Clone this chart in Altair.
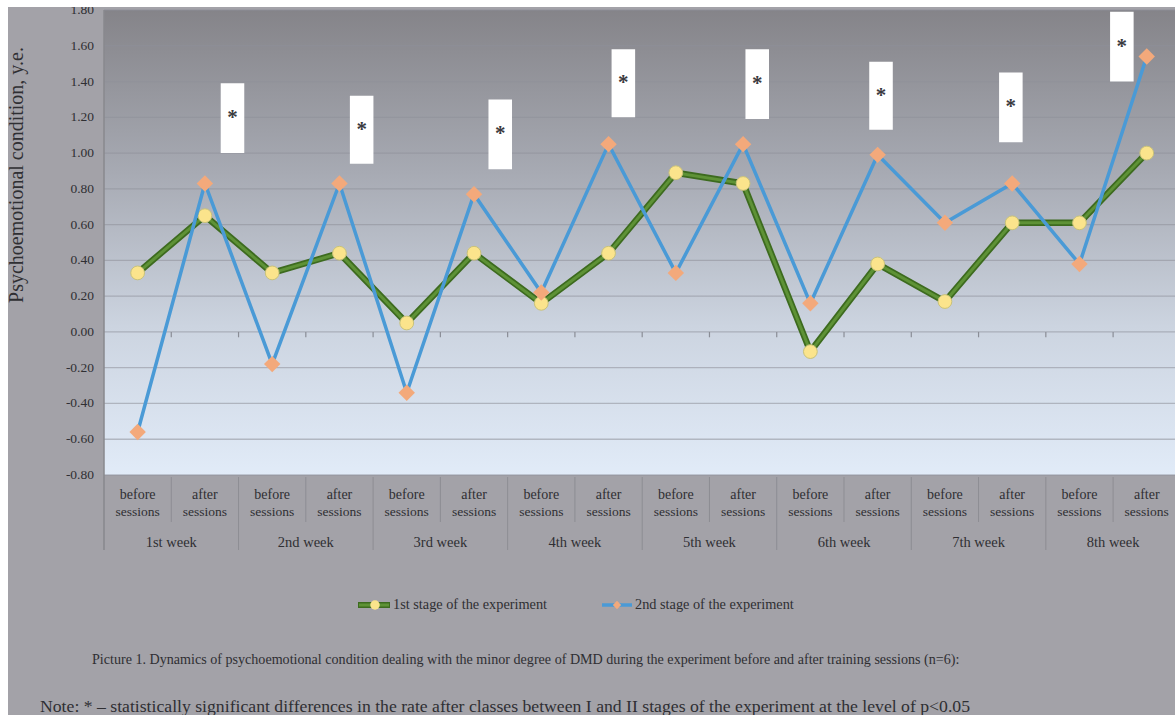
import altair as alt
import pandas as pd

# ---------------- data ----------------
weeks = ["1st week", "2nd week", "3rd week", "4th week",
         "5th week", "6th week", "7th week", "8th week"]
phases = ["before", "after"]
stage1 = [0.33, 0.65, 0.33, 0.44, 0.05, 0.44, 0.16, 0.44,
          0.89, 0.83, -0.11, 0.38, 0.17, 0.61, 0.61, 1.00]
stage2 = [-0.56, 0.83, -0.18, 0.83, -0.34, 0.77, 0.22, 1.05,
          0.33, 1.05, 0.16, 0.99, 0.61, 0.83, 0.38, 1.54]
series_names = ["1st stage of the experiment", "2nd stage of the experiment"]
y_ticks = [-0.8, -0.6, -0.4, -0.2, 0.0, 0.2, 0.4, 0.6, 0.8, 1.0, 1.2, 1.4, 1.6, 1.8]

# significance marks (box centre on the category axis, top and bottom in y units)
star_x = [1.91, 3.83, 5.89, 7.72, 9.71, 11.55, 13.48, 15.13]
star_top = [1.39, 1.32, 1.30, 1.58, 1.58, 1.51, 1.45, 1.79]
star_bottom = [1.00, 0.94, 0.91, 1.20, 1.19, 1.13, 1.06, 1.40]

caption = ("Picture 1. Dynamics of psychoemotional condition dealing with the minor degree "
           "of DMD during the experiment before and after training sessions (n=6):")
note = ("Note: * \u2013 statistically significant differences in the rate after classes "
        "between I and II stages of the experiment at the level of p<0.05")
y_title = "Psychoemotional condition, y.e."

# ---------------- tables ----------------
n = len(stage1)
pts = pd.DataFrame({
    "pos": [i + 0.5 for i in range(n)],
    "s1": stage1,
    "s2": stage2,
})
cats = pd.DataFrame({
    "pos": [i + 0.5 for i in range(n)],
    "top": [phases[i % 2] for i in range(n)],
})
wk = pd.DataFrame({"pos": [2 * i + 1 for i in range(len(weeks))], "week": weeks})
stars = pd.DataFrame({"c": star_x, "t": star_top, "b": star_bottom})
stars["l"] = stars["c"] - 0.175
stars["r"] = stars["c"] + 0.175
stars["m"] = (stars["t"] + stars["b"]) / 2
grid = pd.DataFrame({"v": y_ticks,
                     "lab": [("-" if v < 0 else "") + "%.2f" % abs(v) for v in y_ticks]})
minor_sep = pd.DataFrame({"k": [k for k in range(1, n) if k % 2 == 1]})
major_sep = pd.DataFrame({"k": [k for k in range(0, n + 1, 2)]})
zero_ticks = pd.DataFrame({"k": list(range(1, n)), "y0": 0.0, "y1": -0.03})

W, H = 1071, 465
SERIF = "Liberation Serif"
TXT = "#2f2f33"

xs = alt.Scale(domain=[0, 15.92], nice=False, zero=False)
ys = alt.Scale(domain=[-0.8, 1.8], nice=False, zero=False)


def X(f):
    return alt.X(f, scale=xs, axis=None)


def Y(f):
    return alt.Y(f, scale=ys, axis=None)


one = pd.DataFrame({"a": [0]})

# plot background gradient
bg = alt.Chart(one).mark_rect(
    color=alt.Gradient(
        gradient="linear", x1=0, x2=0, y1=0, y2=1,
        stops=[alt.GradientStop(color="#858489", offset=0),
               alt.GradientStop(color="#a7aab3", offset=0.35),
               alt.GradientStop(color="#ccd4e0", offset=0.68),
               alt.GradientStop(color="#e1ebf8", offset=1)])
).encode(x=alt.value(0), x2=alt.value(W), y=alt.value(0), y2=alt.value(H))

# white frame strips at top and left
strip_top = alt.Chart(one).mark_rect(color="white").encode(
    x=alt.value(-104), x2=alt.value(W), y=alt.value(-10), y2=alt.value(-3))
strip_left = alt.Chart(one).mark_rect(color="white").encode(
    x=alt.value(-104), x2=alt.value(-96), y=alt.value(-10), y2=alt.value(H + 240))

gridlines = alt.Chart(grid).mark_rule(color="#8e9099", strokeWidth=1.3, opacity=0.55).encode(
    y=alt.Y("v:Q", scale=ys,
            axis=alt.Axis(values=y_ticks, title=None, grid=False, domain=False,
                          labels=False, tickSize=5, tickColor="#8a8a90")),
    x=alt.value(0), x2=alt.value(W))

ylabels = alt.Chart(grid).mark_text(font=SERIF, fontSize=13.5, color=TXT,
                                    align="right", baseline="middle").encode(
    y=Y("v:Q"), x=alt.value(-10), text="lab:N")

zt = alt.Chart(zero_ticks).mark_rule(color="#8a8d96", strokeWidth=1.2).encode(
    x=X("k:Q"), y=Y("y0:Q"), y2="y1:Q")

left_axis = alt.Chart(one).mark_rule(color="#88888e", strokeWidth=1.5).encode(
    x=alt.value(0), y=alt.value(0), y2=alt.value(540))

sep_minor = alt.Chart(minor_sep).mark_rule(color="#8d8d93", strokeWidth=1).encode(
    x=X("k:Q"), y=alt.value(H + 2), y2=alt.value(H + 47))
sep_major = alt.Chart(major_sep).mark_rule(color="#8d8d93", strokeWidth=1).encode(
    x=X("k:Q"), y=alt.value(H + 2), y2=alt.value(H + 75))

lab1 = alt.Chart(cats).mark_text(font=SERIF, fontSize=14, color=TXT).encode(
    x=X("pos:Q"), y=alt.value(H + 20), text="top:N")
lab2 = alt.Chart(cats).mark_text(font=SERIF, fontSize=13.5, color=TXT, text="sessions").encode(
    x=X("pos:Q"), y=alt.value(H + 37))
lab3 = alt.Chart(wk).mark_text(font=SERIF, fontSize=14.5, color=TXT).encode(
    x=X("pos:Q"), y=alt.value(H + 68), text="week:N")

boxes = alt.Chart(stars).mark_rect(color="white").encode(
    x=X("l:Q"), x2="r:Q", y=Y("t:Q"), y2="b:Q")
star_txt = alt.Chart(stars).mark_text(text="*", font=SERIF, fontSize=21, fontWeight="bold",
                                      color="#3a3a3e", baseline="middle", dy=0).encode(
    x=X("c:Q"), y=Y("m:Q"))

g_outer = alt.Chart(pts).mark_line(color="#3d6b1f", strokeWidth=6.5).encode(
    x=X("pos:Q"), y=Y("s1:Q"))
g_inner = alt.Chart(pts).mark_line(color="#5e9236", strokeWidth=3).encode(
    x=X("pos:Q"), y=Y("s1:Q"))
g_pts = alt.Chart(pts).mark_point(shape="circle", filled=True, size=190, color="#fbe48c",
                                  stroke="#c9c27a", strokeWidth=1, opacity=1).encode(
    x=X("pos:Q"), y=Y("s1:Q"))
b_line = alt.Chart(pts).mark_line(color="#4a9ad6", strokeWidth=3.5).encode(
    x=X("pos:Q"), y=Y("s2:Q"))
b_pts = alt.Chart(pts).mark_point(shape="diamond", filled=True, size=270, color="#f3a97b",
                                  opacity=1).encode(
    x=X("pos:Q"), y=Y("s2:Q"))

# legend
leg_g1 = alt.Chart(one).mark_rule(color="#3d6b1f", strokeWidth=6).encode(
    x=alt.value(254), x2=alt.value(286), y=alt.value(595))
leg_g2 = alt.Chart(one).mark_rule(color="#5e9236", strokeWidth=3).encode(
    x=alt.value(255), x2=alt.value(285), y=alt.value(595))
leg_gp = alt.Chart(one).mark_point(shape="circle", filled=True, size=90, color="#fbe48c",
                                   opacity=1).encode(x=alt.value(271), y=alt.value(595))
leg_b = alt.Chart(one).mark_rule(color="#4a9ad6", strokeWidth=3.5).encode(
    x=alt.value(498), x2=alt.value(528), y=alt.value(595))
leg_bp = alt.Chart(one).mark_point(shape="diamond", filled=True, size=70, color="#f3a97b",
                                   opacity=1).encode(x=alt.value(513), y=alt.value(595))
leg_t1 = alt.Chart(one).mark_text(text=series_names[0], font=SERIF, fontSize=14.3, color=TXT,
                                  align="left", baseline="middle").encode(
    x=alt.value(289), y=alt.value(595))
leg_t2 = alt.Chart(one).mark_text(text=series_names[1], font=SERIF, fontSize=14.3, color=TXT,
                                  align="left", baseline="middle").encode(
    x=alt.value(531), y=alt.value(595))

cap = alt.Chart(one).mark_text(text=caption, font=SERIF, fontSize=14.1, color=TXT,
                               align="left", baseline="middle").encode(
    x=alt.value(-12), y=alt.value(650))
nt = alt.Chart(one).mark_text(text=note, font=SERIF, fontSize=17.7, color=TXT,
                              align="left", baseline="middle").encode(
    x=alt.value(-64), y=alt.value(697))
ytitle = alt.Chart(one).mark_text(text=y_title, font=SERIF, fontSize=20, color=TXT,
                                  angle=270, align="center", baseline="middle").encode(
    x=alt.value(-87), y=alt.value(165))

chart = alt.layer(
    bg, gridlines, ylabels, zt, left_axis, sep_minor, sep_major, lab1, lab2, lab3,
    boxes, star_txt, g_outer, g_inner, g_pts, b_line, b_pts,
    leg_g1, leg_g2, leg_gp, leg_b, leg_bp, leg_t1, leg_t2, cap, nt, ytitle,
    strip_top, strip_left,
).properties(
    width=W, height=H,
    autosize=alt.AutoSizeParams(type="none"),
    padding={"left": 104, "top": 10, "right": 0, "bottom": 240},
    background="#a3a2a8",
).configure_view(stroke=None)

chart.save("out.html", embed_options={"renderer": "svg", "actions": False})
